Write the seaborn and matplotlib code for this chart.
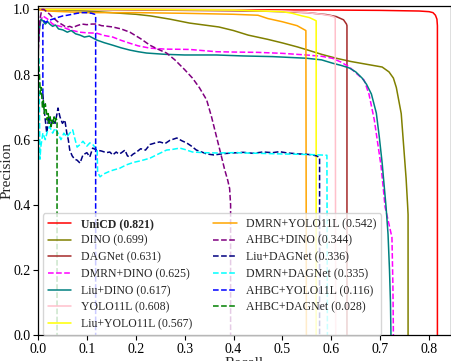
import numpy as np
import pandas as pd
import matplotlib
matplotlib.use("Agg")
import matplotlib.pyplot as plt
import seaborn as sns

# PR curve points (recall, precision)
rec_unicd = [0.0, 0.05, 0.2, 0.4, 0.6, 0.7, 0.78, 0.80, 0.808, 0.813, 0.816, 0.817, 0.817]
prec_unicd = [1.0, 1.0, 1.0, 0.999, 0.998, 0.997, 0.995, 0.993, 0.99, 0.982, 0.97, 0.95, 0.0]

rec_dino = [0.0, 0.05, 0.1, 0.15, 0.2, 0.23, 0.27, 0.31, 0.34, 0.37, 0.40, 0.43, 0.47,
            0.50, 0.53, 0.55, 0.58, 0.61, 0.64, 0.67, 0.704, 0.718, 0.727, 0.733, 0.738,
            0.743, 0.748, 0.753, 0.756, 0.757, 0.757]
prec_dino = [1.0, 0.998, 0.995, 0.99, 0.985, 0.98, 0.97, 0.958, 0.952, 0.946, 0.935, 0.921,
             0.908, 0.897, 0.885, 0.876, 0.862, 0.85, 0.84, 0.832, 0.823, 0.808, 0.789,
             0.76, 0.72, 0.68, 0.58, 0.48, 0.40, 0.37, 0.0]

rec_dagnet = [0.0, 0.1, 0.3, 0.45, 0.5, 0.55, 0.59, 0.61, 0.625, 0.631, 0.632, 0.632]
prec_dagnet = [1.0, 1.0, 0.997, 0.995, 0.993, 0.99, 0.984, 0.978, 0.968, 0.955, 0.95, 0.0]

rec_dmrn_dino = [0.004, 0.01, 0.02, 0.03, 0.04, 0.051, 0.06, 0.071, 0.086, 0.1, 0.12, 0.135,
                 0.153, 0.17, 0.188, 0.205, 0.229, 0.26, 0.31, 0.365, 0.4, 0.45, 0.5, 0.549,
                 0.58, 0.602, 0.62, 0.637, 0.65, 0.667, 0.677, 0.688, 0.702, 0.71, 0.718,
                 0.724, 0.726, 0.727]
prec_dmrn_dino = [0.96, 0.98, 0.97, 0.955, 0.95, 0.946, 0.94, 0.935, 0.93, 0.928, 0.927, 0.92,
                  0.915, 0.905, 0.896, 0.888, 0.881, 0.878, 0.877, 0.87, 0.869, 0.868, 0.865,
                  0.86, 0.856, 0.85, 0.838, 0.823, 0.805, 0.783, 0.74, 0.66, 0.516, 0.393,
                  0.34, 0.30, 0.15, 0.0]

rec_liu_dino = [0.0, 0.0, 0.003, 0.006, 0.01, 0.015, 0.02, 0.024, 0.03, 0.036, 0.042, 0.051,
                0.06, 0.068, 0.077, 0.086, 0.095, 0.105, 0.12, 0.135, 0.153, 0.17, 0.188,
                0.205, 0.222, 0.26, 0.3, 0.365, 0.42, 0.48, 0.549, 0.58, 0.602, 0.62, 0.637,
                0.65, 0.663, 0.672, 0.682, 0.692, 0.698, 0.704, 0.708, 0.712, 0.716, 0.719,
                0.721, 0.722]
prec_liu_dino = [0.0, 0.88, 0.94, 0.97, 0.965, 0.955, 0.962, 0.955, 0.948, 0.952, 0.94, 0.937,
                 0.93, 0.935, 0.925, 0.921, 0.915, 0.918, 0.906, 0.898, 0.89, 0.882, 0.875,
                 0.87, 0.866, 0.862, 0.86, 0.86, 0.857, 0.855, 0.85, 0.845, 0.835, 0.828,
                 0.82, 0.808, 0.789, 0.77, 0.74, 0.682, 0.61, 0.528, 0.46, 0.393, 0.31, 0.2,
                 0.1, 0.0]

rec_yolo = [0.0, 0.2, 0.4, 0.5, 0.55, 0.58, 0.6, 0.608, 0.609]
prec_yolo = [1.0, 1.0, 0.998, 0.995, 0.99, 0.985, 0.98, 0.975, 0.0]

rec_liu_yolo = [0.0, 0.2, 0.4, 0.5, 0.52, 0.54, 0.555, 0.565, 0.569, 0.569]
prec_liu_yolo = [1.0, 1.0, 0.998, 0.993, 0.988, 0.98, 0.975, 0.968, 0.965, 0.0]

rec_dmrn_yolo = [0.0, 0.02, 0.1, 0.2, 0.3, 0.4, 0.45, 0.47, 0.5, 0.53, 0.548, 0.549]
prec_dmrn_yolo = [1.0, 0.995, 0.99, 0.99, 0.988, 0.985, 0.982, 0.972, 0.962, 0.95, 0.935, 0.0]

rec_ahbc_dino = [0.0, 0.004, 0.008, 0.012, 0.016, 0.02, 0.024, 0.03, 0.036, 0.042, 0.051,
                 0.058, 0.065, 0.071, 0.08, 0.09, 0.1, 0.11, 0.12, 0.13, 0.142, 0.153, 0.17,
                 0.188, 0.21, 0.229, 0.245, 0.263, 0.28, 0.3, 0.316, 0.33, 0.345, 0.355,
                 0.365, 0.375, 0.382, 0.388, 0.392, 0.394, 0.394]
prec_ahbc_dino = [0.85, 0.97, 1.0, 1.0, 0.995, 0.99, 0.985, 0.975, 0.968, 0.96, 0.952, 0.945,
                  0.948, 0.944, 0.95, 0.955, 0.953, 0.955, 0.955, 0.95, 0.948, 0.946, 0.94,
                  0.93, 0.91, 0.89, 0.878, 0.866, 0.845, 0.815, 0.789, 0.76, 0.722, 0.67,
                  0.61, 0.55, 0.507, 0.476, 0.45, 0.40, 0.0]

rec_liu_dagnet = [0.01, 0.012, 0.015, 0.018, 0.022, 0.026, 0.03, 0.035, 0.039, 0.041, 0.045,
                  0.05, 0.055, 0.059, 0.062, 0.065, 0.07, 0.075, 0.08, 0.086, 0.092, 0.1,
                  0.106, 0.112, 0.12, 0.13, 0.14, 0.147, 0.153, 0.16, 0.165, 0.17, 0.178,
                  0.183, 0.188, 0.195, 0.2, 0.21, 0.22, 0.229, 0.24, 0.249, 0.26, 0.27, 0.284,
                  0.295, 0.304, 0.314, 0.324, 0.335, 0.345, 0.36, 0.38, 0.398, 0.42, 0.44,
                  0.46, 0.48, 0.494, 0.51, 0.535, 0.55, 0.561, 0.57, 0.576, 0.576]
prec_liu_dagnet = [0.74, 0.70, 0.66, 0.62, 0.67, 0.64, 0.66, 0.65, 0.68, 0.697, 0.67, 0.65,
                   0.66, 0.62, 0.6, 0.568, 0.55, 0.54, 0.537, 0.528, 0.553, 0.56, 0.547,
                   0.574, 0.568, 0.565, 0.56, 0.562, 0.553, 0.562, 0.556, 0.559, 0.568, 0.55,
                   0.547, 0.556, 0.56, 0.572, 0.568, 0.585, 0.59, 0.593, 0.588, 0.598, 0.605,
                   0.596, 0.59, 0.58, 0.568, 0.562, 0.556, 0.553, 0.557, 0.559, 0.561, 0.558,
                   0.562, 0.56, 0.563, 0.559, 0.556, 0.555, 0.553, 0.55, 0.545, 0.0]

rec_dmrn_dagnet = [0.002, 0.004, 0.006, 0.01, 0.015, 0.02, 0.024, 0.03, 0.035, 0.041, 0.047,
                   0.053, 0.059, 0.065, 0.071, 0.076, 0.08, 0.086, 0.092, 0.1, 0.106, 0.112,
                   0.118, 0.121, 0.122, 0.127, 0.135, 0.147, 0.155, 0.167, 0.18, 0.195, 0.21,
                   0.229, 0.245, 0.263, 0.275, 0.29, 0.3, 0.316, 0.34, 0.365, 0.4, 0.45, 0.5,
                   0.535, 0.56, 0.591, 0.592]
prec_dmrn_dagnet = [0.85, 0.54, 0.58, 0.62, 0.6, 0.63, 0.64, 0.62, 0.635, 0.62, 0.6, 0.62,
                    0.608, 0.62, 0.63, 0.6, 0.577, 0.585, 0.595, 0.58, 0.59, 0.585, 0.574,
                    0.574, 0.50, 0.486, 0.495, 0.503, 0.507, 0.512, 0.522, 0.53, 0.535, 0.543,
                    0.555, 0.568, 0.57, 0.574, 0.57, 0.562, 0.56, 0.559, 0.56, 0.558, 0.556,
                    0.555, 0.554, 0.552, 0.0]

rec_ahbc_yolo = [0.01, 0.01, 0.012, 0.016, 0.02, 0.03, 0.04, 0.051, 0.06, 0.07, 0.08, 0.09,
                 0.1, 0.11, 0.116, 0.118, 0.118]
prec_ahbc_yolo = [0.74, 0.95, 0.965, 0.96, 0.965, 0.97, 0.975, 0.98, 0.982, 0.985, 0.988,
                  0.99, 0.99, 0.988, 0.985, 0.98, 0.0]

rec_ahbc_dagnet = [0.0, 0.001, 0.003, 0.005, 0.007, 0.009, 0.011, 0.013, 0.015, 0.017, 0.019,
                   0.021, 0.023, 0.025, 0.027, 0.029, 0.031, 0.033, 0.035, 0.037, 0.039, 0.039]
prec_ahbc_dagnet = [1.0, 0.83, 0.80, 0.74, 0.76, 0.70, 0.72, 0.68, 0.71, 0.69, 0.66, 0.68,
                    0.65, 0.67, 0.64, 0.66, 0.65, 0.67, 0.655, 0.665, 0.66, 0.0]

labels = ["UniCD (0.821)", "DINO (0.699)", "DAGNet (0.631)", "DMRN+DINO (0.625)",
          "Liu+DINO (0.617)", "YOLO11L (0.608)", "Liu+YOLO11L (0.567)",
          "DMRN+YOLO11L (0.542)", "AHBC+DINO (0.344)", "Liu+DAGNet (0.336)",
          "DMRN+DAGNet (0.335)", "AHBC+YOLO11L (0.116)", "AHBC+DAGNet (0.028)"]

curves = [(rec_unicd, prec_unicd), (rec_dino, prec_dino), (rec_dagnet, prec_dagnet),
          (rec_dmrn_dino, prec_dmrn_dino), (rec_liu_dino, prec_liu_dino),
          (rec_yolo, prec_yolo), (rec_liu_yolo, prec_liu_yolo),
          (rec_dmrn_yolo, prec_dmrn_yolo), (rec_ahbc_dino, prec_ahbc_dino),
          (rec_liu_dagnet, prec_liu_dagnet), (rec_dmrn_dagnet, prec_dmrn_dagnet),
          (rec_ahbc_yolo, prec_ahbc_yolo), (rec_ahbc_dagnet, prec_ahbc_dagnet)]

colors = ["red", "olive", "brown", "magenta", "teal", "pink", "yellow", "orange",
          "purple", "navy", "cyan", "blue", "green"]
styles = ["-", "-", "-", "--", "-", "-", "-", "-", "--", "--", "--", "--", "--"]

sns.set_style("ticks")
plt.rcParams["font.family"] = ["Liberation Serif", "DejaVu Serif"]
plt.rcParams["xtick.major.size"] = 3.5
plt.rcParams["ytick.major.size"] = 3.5

fig = plt.figure(figsize=(4.52, 3.61), dpi=100)
ax = fig.add_axes([0.084, 0.072, 0.914, 0.911])

for (r, p), lab, c, ls in zip(curves, labels, colors, styles):
    sns.lineplot(x=r, y=p, ax=ax, color=c, linestyle=ls, linewidth=1.1, label=lab,
                 estimator=None, sort=False)

ax.set_xlim(0, 0.845)
ax.set_ylim(0, 1.01)
ax.set_xticks(np.arange(0, 0.81, 0.1))
ax.set_yticks(np.arange(0, 1.01, 0.2))
ax.xaxis.set_major_formatter(matplotlib.ticker.FormatStrFormatter("%.1f"))
ax.yaxis.set_major_formatter(matplotlib.ticker.FormatStrFormatter("%.1f"))
ax.tick_params(labelsize=10, colors="black", pad=2)
ax.set_xlabel("Recall", fontsize=11, labelpad=1)
ax.set_ylabel("Precision", fontsize=11, labelpad=0)
for s in ax.spines.values():
    s.set_color("black")
    s.set_linewidth(0.9)

leg = ax.legend(loc="lower left", ncol=2, fontsize=8.5, frameon=True, labelspacing=0.4,
                handletextpad=0.8, columnspacing=1.8,
                bbox_to_anchor=(0.012, 0.0), borderaxespad=0.0)
leg.get_texts()[0].set_fontweight("bold")

fig.savefig("out.png", dpi=100)
